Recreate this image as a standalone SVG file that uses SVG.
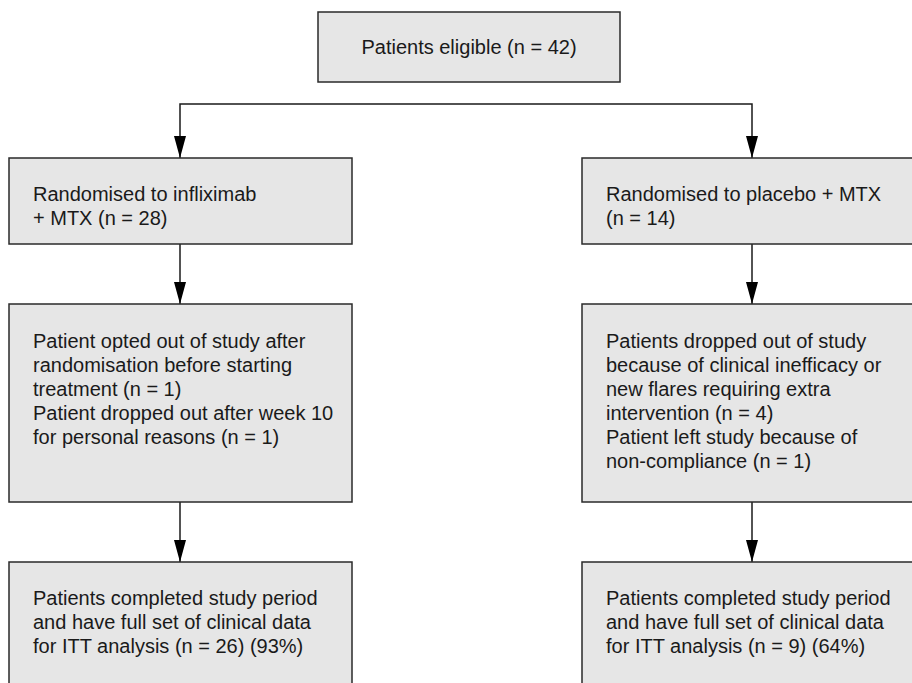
<svg xmlns="http://www.w3.org/2000/svg" width="912" height="683" viewBox="0 0 912 683">
  <style>
    .box { fill: #e6e6e6; stroke: #2a2a2a; stroke-width: 1.5; }
    .txt { font-family: "Liberation Sans", Arial, sans-serif; font-size: 20px; fill: #1a1a1a; }
    .conn { fill: none; stroke: #1a1a1a; stroke-width: 1.5; }
  </style>
  <defs>
    <marker id="arrow" markerUnits="userSpaceOnUse" markerWidth="22" markerHeight="12" refX="22" refY="6" orient="auto">
      <path d="M0,0 L22,6 L0,12 z" fill="#000"/>
    </marker>
  </defs>
  <rect width="912" height="683" fill="#ffffff"/>

  <g id="connectors">
    <path class="conn" d="M466,104 L180,104 L180,158" marker-end="url(#arrow)"/>
    <path class="conn" d="M466,104 L752,104 L752,158" marker-end="url(#arrow)"/>
    <path class="conn" d="M180,244 L180,304" marker-end="url(#arrow)"/>
    <path class="conn" d="M752,244 L752,304" marker-end="url(#arrow)"/>
    <path class="conn" d="M180,502 L180,562" marker-end="url(#arrow)"/>
    <path class="conn" d="M752,502 L752,562" marker-end="url(#arrow)"/>
  </g>

  <g id="eligible">
    <rect class="box" x="318" y="12" width="302" height="70"/>
    <text class="txt" x="469" y="54" text-anchor="middle">Patients eligible (n = 42)</text>
  </g>

  <g id="infliximab">
    <rect class="box" x="9" y="158" width="343" height="86"/>
    <text class="txt" x="33" y="201">Randomised to infliximab</text>
    <text class="txt" x="33" y="225">+ MTX (n = 28)</text>
  </g>

  <g id="placebo">
    <rect class="box" x="582" y="158" width="340" height="86"/>
    <text class="txt" x="606" y="201">Randomised to placebo + MTX</text>
    <text class="txt" x="606" y="225">(n = 14)</text>
  </g>

  <g id="dropout-infliximab">
    <rect class="box" x="9" y="304" width="343" height="198"/>
    <text class="txt" x="33" y="348">Patient opted out of study after</text>
    <text class="txt" x="33" y="372">randomisation before starting</text>
    <text class="txt" x="33" y="396">treatment (n = 1)</text>
    <text class="txt" x="33" y="420">Patient dropped out after week 10</text>
    <text class="txt" x="33" y="444">for personal reasons (n = 1)</text>
  </g>

  <g id="dropout-placebo">
    <rect class="box" x="582" y="304" width="340" height="198"/>
    <text class="txt" x="606" y="348">Patients dropped out of study</text>
    <text class="txt" x="606" y="372">because of clinical inefficacy or</text>
    <text class="txt" x="606" y="396">new flares requiring extra</text>
    <text class="txt" x="606" y="420">intervention (n = 4)</text>
    <text class="txt" x="606" y="444">Patient left study because of</text>
    <text class="txt" x="606" y="468">non-compliance (n = 1)</text>
  </g>

  <g id="completed-infliximab">
    <rect class="box" x="9" y="562" width="343" height="140"/>
    <text class="txt" x="33" y="605">Patients completed study period</text>
    <text class="txt" x="33" y="629">and have full set of clinical data</text>
    <text class="txt" x="33" y="653">for ITT analysis (n = 26) (93%)</text>
  </g>

  <g id="completed-placebo">
    <rect class="box" x="582" y="562" width="340" height="140"/>
    <text class="txt" x="606" y="605">Patients completed study period</text>
    <text class="txt" x="606" y="629">and have full set of clinical data</text>
    <text class="txt" x="606" y="653">for ITT analysis (n = 9) (64%)</text>
  </g>
</svg>
